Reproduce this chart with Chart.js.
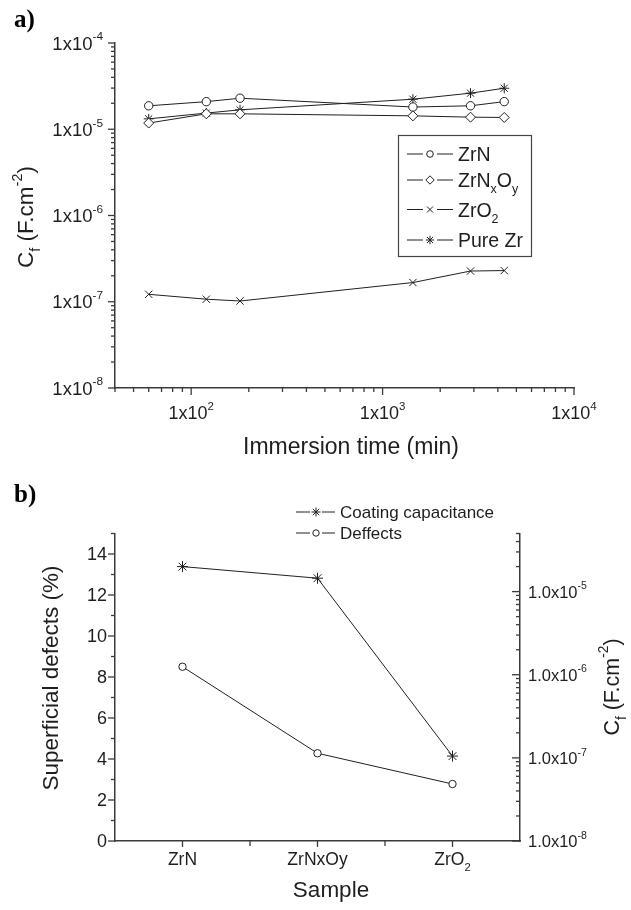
<!DOCTYPE html>
<html><head><meta charset="utf-8">
<script src="https://cdn.jsdelivr.net/npm/chart.js@4.4.1/dist/chart.umd.min.js"></script>
<style>
html,body{margin:0;padding:0;background:#fff;}
#wrap{position:relative;width:631px;height:910px;background:#fff;}
canvas{position:absolute;left:0;top:0;}
</style></head><body>
<div id="wrap"><canvas id="ca" width="631" height="910"></canvas><canvas id="cb" width="631" height="910"></canvas></div>
<script>
// ---------- Panel a data ----------
const immersionTimes = [60, 120, 180, 1440, 2880, 4320];           // min
const cfZrN    = [1.87e-5, 2.09e-5, 2.29e-5, 1.81e-5, 1.87e-5, 2.09e-5];
const cfZrNxOy = [1.18e-5, 1.51e-5, 1.51e-5, 1.43e-5, 1.38e-5, 1.37e-5];
const cfZrO2   = [1.22e-7, 1.07e-7, 1.02e-7, 1.67e-7, 2.27e-7, 2.30e-7];
const cfPureZr = [1.32e-5, 1.54e-5, 1.68e-5, 2.23e-5, 2.62e-5, 2.99e-5];
const seriesNamesA = ['ZrN', 'ZrNxOy', 'ZrO2', 'Pure Zr'];
const xTickExponentsA = [2, 3, 4];
const yTickExponentsA = [-4, -5, -6, -7, -8];

// ---------- Panel b data ----------
const samples = ['ZrN', 'ZrNxOy', 'ZrO2'];
const coatingCapacitance = [2.0e-5, 1.45e-5, 1.05e-7];   // F.cm-2 (right axis)
const defects = [8.5, 4.28, 2.78];                          // % (left axis)
const defectTicks = [0, 2, 4, 6, 8, 10, 12, 14];
const cfTickExponentsB = [-5, -6, -7, -8];

const TXT = '#1e1e1e', AX = '#3a3a3a', LINE = '#202020';
const SANS = '"Liberation Sans", Arial, sans-serif';

function fontOf(s){ return s.toFixed(2) + 'px ' + SANS; }
function line(ctx,x1,y1,x2,y2){ ctx.beginPath(); ctx.moveTo(x1,y1); ctx.lineTo(x2,y2); ctx.stroke(); }
function partsWidth(ctx, parts, size){
  let w = 0;
  for (const [t,k] of parts){ ctx.font = fontOf(k ? size*0.64 : size); w += ctx.measureText(t).width; }
  return w;
}
function drawRich(ctx, parts, x, y, size, align){
  const w = partsWidth(ctx, parts, size);
  let cx = align === 'center' ? x - w/2 : align === 'right' ? x - w : x;
  const base = y + size*0.36;
  ctx.fillStyle = TXT; ctx.textBaseline = 'alphabetic'; ctx.textAlign = 'left';
  for (const [t,k] of parts){
    const s = k ? size*0.64 : size;
    ctx.font = fontOf(s);
    const dy = k === 1 ? -size*0.5 : k === -1 ? size*0.32 : 0;
    ctx.fillText(t, cx, base + dy);
    cx += ctx.measureText(t).width;
  }
}
function drawRichRot(ctx, parts, x, y, size){
  ctx.save(); ctx.translate(x, y); ctx.rotate(-Math.PI/2);
  drawRich(ctx, parts, 0, 0, size, 'center'); ctx.restore();
}
// chemical formula: digits subscripted, x/y after capital subscripted
function formula(s, xy){
  const parts = [];
  for (let i = 0; i < s.length; i++){
    const c = s[i];
    const sub = /[0-9]/.test(c) || (xy && /[xy]/.test(c) && i > 0 && /[A-Z]/.test(s[i-1]));
    const kind = sub ? -1 : 0;
    if (parts.length && parts[parts.length-1][1] === kind) parts[parts.length-1][0] += c;
    else parts.push([c, kind]);
  }
  return parts;
}
function marker(ctx, style, x, y, r){
  ctx.strokeStyle = LINE; ctx.lineWidth = 1; ctx.fillStyle = '#fff';
  ctx.beginPath();
  const d = r*Math.SQRT1_2;
  if (style === 'circle'){ ctx.arc(x,y,r,0,2*Math.PI); ctx.fill(); ctx.stroke(); }
  else if (style === 'rectRot'){ ctx.moveTo(x-r,y); ctx.lineTo(x,y-r); ctx.lineTo(x+r,y); ctx.lineTo(x,y+r); ctx.closePath(); ctx.fill(); ctx.stroke(); }
  else if (style === 'crossRot'){ ctx.moveTo(x-d,y-d); ctx.lineTo(x+d,y+d); ctx.moveTo(x-d,y+d); ctx.lineTo(x+d,y-d); ctx.stroke(); }
  else if (style === 'star'){ ctx.moveTo(x-d,y-d); ctx.lineTo(x+d,y+d); ctx.moveTo(x-d,y+d); ctx.lineTo(x+d,y-d);
    ctx.moveTo(x,y-r); ctx.lineTo(x,y+r); ctx.moveTo(x-r,y); ctx.lineTo(x+r,y); ctx.stroke(); }
}

const axisOpts = (extra) => Object.assign({
  ticks: { display: false },
  grid: { display: true, drawOnChartArea: false, drawTicks: false },
  border: { display: true, color: AX, width: 1.5 }
}, extra);

function ds(label, data, style, r, extra){
  return Object.assign({
    label, data, pointStyle: style, pointRadius: r, pointHoverRadius: r,
    pointBorderWidth: 1, pointBackgroundColor: '#fff', pointBorderColor: LINE,
    borderColor: LINE, borderWidth: 1, showLine: true, fill: false, tension: 0, clip: false
  }, extra || {});
}

// ---------- Panel a ----------
const stylesA = ['circle', 'rectRot', 'crossRot', 'star'];
const radiiA = [4.2, 5, 5.2, 5];
const seriesA = [cfZrN, cfZrNxOy, cfZrO2, cfPureZr];

const pluginA = { id: 'panelA', afterDraw(chart){
  const {ctx, chartArea: ca, scales: {x, y}} = chart;
  ctx.save();
  ctx.strokeStyle = AX; ctx.lineWidth = 1.3;
  for (const e of yTickExponentsA){
    for (let k = 1; k <= 9; k++){
      const v = k*Math.pow(10, e);
      if (v > y.max*1.0001) continue;
      const py = y.getPixelForValue(v);
      line(ctx, ca.left - (k === 1 ? 7 : 4), py, ca.left, py);
    }
  }
  const e0 = Math.floor(Math.log10(x.min)), e1 = Math.ceil(Math.log10(x.max));
  for (let e = e0; e <= e1; e++){
    for (let k = 1; k <= 9; k++){
      const v = k*Math.pow(10, e);
      if (v < x.min*0.9999 || v > x.max*1.0001) continue;
      const px = x.getPixelForValue(v);
      line(ctx, px, ca.bottom, px, ca.bottom + (k === 1 ? 7 : 4));
    }
  }
  for (const e of yTickExponentsA)
    drawRich(ctx, [['1x10',0],[String(e),1]], ca.left - 12, y.getPixelForValue(Math.pow(10,e)), 18.5, 'right');
  for (const e of xTickExponentsA)
    drawRich(ctx, [['1x10',0],[String(e),1]], x.getPixelForValue(Math.pow(10,e)), ca.bottom + 24.5, 18, 'center');
  drawRich(ctx, [['Immersion time (min)',0]], 351, 446, 23, 'center');
  drawRichRot(ctx, [['C',0],['f',-1],[' (F.cm',0],['-2',1],[')',0]], 25, 217, 22.5);
  // legend
  ctx.strokeStyle = '#444'; ctx.lineWidth = 1.2;
  ctx.strokeRect(398.5, 135.5, 133, 121);
  const rows = [154, 180, 209.5, 240];
  chart.data.datasets.forEach((d, i) => {
    const yy = rows[i];
    ctx.strokeStyle = LINE; ctx.lineWidth = 1;
    line(ctx, 407, yy, 423, yy); line(ctx, 437, yy, 453, yy);
    marker(ctx, d.pointStyle, 430, yy, d.pointStyle === 'circle' ? 3.3 : 4.2);
    drawRich(ctx, formula(d.label, true), 458, yy, 19.5, 'left');
  });
  ctx.fillStyle = '#000'; ctx.font = 'bold 25px "Liberation Serif", "Times New Roman", serif';
  ctx.textAlign = 'left'; ctx.textBaseline = 'alphabetic';
  ctx.fillText('a)', 14, 27);
  ctx.restore();
}};

new Chart(document.getElementById('ca'), {
  type: 'scatter',
  data: { datasets: seriesNamesA.map((n, i) => ds(n, immersionTimes.map((t, j) => ({x: t, y: seriesA[i][j]})), stylesA[i], radiiA[i])) },
  options: {
    responsive: false, maintainAspectRatio: false, animation: false, events: [],
    layout: { padding: { left: 115, right: 57, top: 43, bottom: 522 } },
    plugins: { legend: { display: false }, tooltip: { enabled: false }, title: { display: false } },
    scales: {
      x: axisOpts({ type: 'logarithmic', min: 40, max: 10000, position: 'bottom' }),
      y: axisOpts({ type: 'logarithmic', min: 1e-8, max: 1e-4, position: 'left' })
    }
  },
  plugins: [pluginA]
});

// ---------- Panel b ----------
const pluginB = { id: 'panelB', afterDraw(chart){
  const {ctx, chartArea: ca, scales: {x, y, y2}} = chart;
  ctx.save();
  ctx.strokeStyle = AX; ctx.lineWidth = 1.3;
  // left ticks
  for (let v = 0; v <= y.max + 1e-9; v += 1){
    const py = y.getPixelForValue(v);
    line(ctx, ca.left - (v % 2 === 0 ? 7 : 4), py, ca.left, py);
  }
  // right ticks (pointing inward)
  for (const e of cfTickExponentsB){
    for (let k = 1; k <= 9; k++){
      const v = k*Math.pow(10, e);
      if (v > y2.max*1.0001) continue;
      const py = y2.getPixelForValue(v);
      line(ctx, ca.right - (k === 1 ? 8 : 4), py, ca.right, py);
    }
  }
  // bottom ticks
  const pxs = samples.map((s, i) => x.getPixelForValue(i));
  pxs.forEach((px, i) => {
    line(ctx, px, ca.bottom, px, ca.bottom + 6);
    if (i < pxs.length - 1){ const m = (px + pxs[i+1])/2; line(ctx, m, ca.bottom, m, ca.bottom + 5); }
  });
  for (const v of defectTicks) drawRich(ctx, [[String(v),0]], ca.left - 8, y.getPixelForValue(v), 18, 'right');
  for (const e of cfTickExponentsB)
    drawRich(ctx, [['1.0x10',0],[String(e),1]], ca.right + 8, y2.getPixelForValue(Math.pow(10,e)), 16.5, 'left');
  samples.forEach((s, i) => drawRich(ctx, formula(s, false), pxs[i], ca.bottom + 18, 17.5, 'center'));
  drawRich(ctx, [['Sample',0]], 331, 888.5, 22.5, 'center');
  drawRichRot(ctx, [['Superficial defects (%)',0]], 50, 678, 22.5);
  drawRichRot(ctx, [['C',0],['f',-1],[' (F.cm',0],['-2',1],[')',0]], 611, 687, 21.5);
  // legend
  const rows = [512, 533];
  chart.data.datasets.forEach((d, i) => {
    const yy = rows[i];
    ctx.strokeStyle = LINE; ctx.lineWidth = 1;
    line(ctx, 296, yy, 310, yy); line(ctx, 322, yy, 335, yy);
    marker(ctx, d.pointStyle, 316, yy, d.pointStyle === 'circle' ? 3.2 : 4.5);
    drawRich(ctx, [[d.label,0]], 340, yy, 17, 'left');
  });
  ctx.fillStyle = '#000'; ctx.font = 'bold 25px "Liberation Serif", "Times New Roman", serif';
  ctx.textAlign = 'left'; ctx.textBaseline = 'alphabetic';
  ctx.fillText('b)', 14, 502);
  ctx.restore();
}};

new Chart(document.getElementById('cb'), {
  type: 'line',
  data: { labels: samples, datasets: [
    ds('Coating capacitance', coatingCapacitance, 'star', 5.5, { yAxisID: 'y2' }),
    ds('Deffects', defects, 'circle', 3.7, { yAxisID: 'y' })
  ]},
  options: {
    responsive: false, maintainAspectRatio: false, animation: false, events: [],
    layout: { padding: { left: 115, right: 111, top: 533.5, bottom: 69 } },
    plugins: { legend: { display: false }, tooltip: { enabled: false }, title: { display: false } },
    scales: {
      x: axisOpts({ type: 'category', offset: true, position: 'bottom' }),
      y: axisOpts({ type: 'linear', min: 0, max: 15, position: 'left' }),
      y2: axisOpts({ type: 'logarithmic', min: 1e-8, max: 5e-5, position: 'right' })
    }
  },
  plugins: [pluginB]
});
</script>
</body></html>
